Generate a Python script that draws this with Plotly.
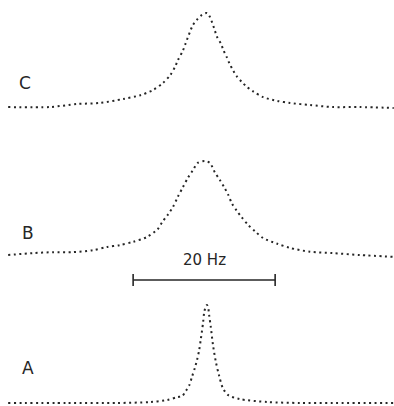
import plotly.graph_objects as go
from plotly.subplots import make_subplots

# Frequency offsets (Hz) and relative intensities
c_hz = [-28.0, -22.1, -18.3, -15.1, -11.8, -9.4, -7.6, -6.2, -5.2, -4.5, -4.1, -3.4, -3.0, -2.4, -2.0,
        -1.4, -0.7, 0.0, 0.4, 1.0, 1.4, 2.0, 2.3, 2.8, 3.2, 3.7, 4.2, 4.9, 5.6, 6.5, 7.9, 9.9, 11.7,
        14.5, 17.7, 21.5, 26.3]
c_int = [0.005, 0.005, 0.037, 0.048, 0.09, 0.13, 0.185, 0.26, 0.34, 0.43, 0.50, 0.60, 0.68, 0.80, 0.87,
         0.93, 0.98, 1.0, 0.96, 0.84, 0.75, 0.67, 0.61, 0.53, 0.46, 0.39, 0.33, 0.27, 0.22, 0.17, 0.11,
         0.07, 0.048, 0.026, 0.005, 0.005, -0.005]

b_hz = [-28.0, -24.5, -21.7, -18.9, -16.1, -14.1, -12.3, -10.4, -8.5, -7.0, -6.3, -5.5, -4.8, -4.1,
        -3.4, -2.7, -2.0, -1.3, -0.3, 0.4, 1.1, 1.8, 2.5, 3.0, 3.5, 4.2, 4.9, 5.8, 6.8, 7.9, 9.9, 11.7,
        14.5, 17.7, 21.5, 26.3]
b_int = [0.0, 0.02, 0.03, 0.03, 0.05, 0.085, 0.105, 0.14, 0.19, 0.27, 0.35, 0.43, 0.51, 0.62, 0.72,
         0.82, 0.90, 0.98, 1.0, 0.98, 0.88, 0.80, 0.71, 0.64, 0.55, 0.47, 0.40, 0.32, 0.25, 0.18, 0.12,
         0.075, 0.035, 0.02, 0.0, -0.02]

a_hz = [-28.0, -19.7, -12.7, -8.0, -5.6, -4.2, -3.5, -3.0, -2.5, -2.1, -1.7, -1.4, -1.1, -0.85, -0.55,
        -0.4, -0.15, 0.0, 0.15, 0.3, 0.55, 0.85, 1.25, 1.7, 2.25, 3.0, 4.6, 8.5, 13.1, 17.7, 26.3]
a_int = [0.0, 0.0, 0.0, 0.01, 0.03, 0.06, 0.07, 0.12, 0.18, 0.27, 0.36, 0.44, 0.54, 0.66, 0.82,
         0.92, 0.99, 1.0, 0.98, 0.90, 0.77, 0.59, 0.42, 0.28, 0.15, 0.08, 0.04, 0.01, 0.0, 0.0, 0.0]

labels = ["C", "B", "A"]
scale_start_hz = -10.4
scale_len_hz = 20
scale_label = "20 Hz"

W, H = 394, 406
X_RANGE = [-29.15, 26.34]
INK = "#262626"

# (baseline px, peak height px, domain) for each spectrum panel
panels = [
    (c_hz, c_int, 107.5, 94.5, [0.70, 1.0]),
    (b_hz, b_int, 255.0, 94.0, [0.33, 0.69]),
    (a_hz, a_int, 403.0, 98.0, [0.0, 0.27]),
]

fig = make_subplots(rows=3, cols=1, shared_xaxes=False, vertical_spacing=0.0)

for i, (xs, ys, base, hpx, dom) in enumerate(panels, start=1):
    fig.add_trace(go.Scatter(x=xs, y=ys, mode="lines",
                             line=dict(color=INK, width=2, dash="2px,3.5px", shape="spline", smoothing=0.8),
                             hoverinfo="skip", showlegend=False), row=i, col=1)
    pb = H * (1 - dom[0])
    pt = H * (1 - dom[1])
    lo = (base - pb) / hpx
    hi = (base - pt) / hpx
    yname = "yaxis" if i == 1 else f"yaxis{i}"
    xname = "xaxis" if i == 1 else f"xaxis{i}"
    fig.layout[yname].update(domain=dom, range=[lo, hi], visible=False)
    fig.layout[xname].update(range=X_RANGE, visible=False, domain=[0, 1])

# Scale bar (20 Hz) between B and A
bar_y = 1 - 280 / H
fig.add_shape(type="line", xref="x3", yref="paper", x0=scale_start_hz, x1=scale_start_hz + scale_len_hz,
              y0=bar_y, y1=bar_y, line=dict(color=INK, width=1.6))
for xe in (scale_start_hz, scale_start_hz + scale_len_hz):
    fig.add_shape(type="line", xref="x3", yref="paper", x0=xe, x1=xe,
                  y0=bar_y - 6 / H, y1=bar_y + 6 / H, line=dict(color=INK, width=1.6))
fig.add_annotation(xref="x3", yref="paper", x=scale_start_hz + scale_len_hz / 2, y=1 - 271 / H,
                   text=scale_label, showarrow=False,
                   font=dict(family="DejaVu Sans", size=15, color=INK))

label_pos = [(17, 71), (20, 233), (20, 380)]
for lab, (px, py) in zip(labels, label_pos):
    fig.add_annotation(xref="paper", yref="paper", x=px / W, y=1 - py / H, text=lab, showarrow=False,
                       font=dict(family="DejaVu Sans", size=17, color=INK))

fig.update_layout(width=W, height=H, margin=dict(l=0, r=0, t=0, b=0),
                  paper_bgcolor="white", plot_bgcolor="white")

fig.write_html("out.html")
